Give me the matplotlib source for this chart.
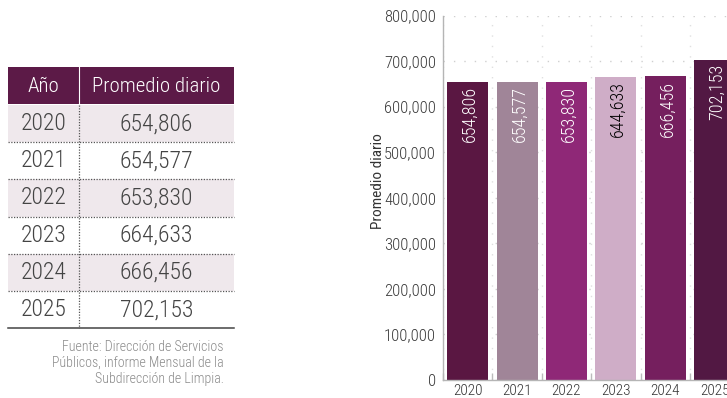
import matplotlib
matplotlib.use("Agg")
import matplotlib.pyplot as plt
import numpy as np
from matplotlib import font_manager
from matplotlib.patches import Rectangle
from matplotlib.ticker import FuncFormatter

# Datos
anios = ["2020", "2021", "2022", "2023", "2024", "2025"]
promedio = [654806, 654577, 653830, 664633, 666456, 702153]
etiquetas_tabla = ["654,806", "654,577", "653,830", "664,633", "666,456", "702,153"]
etiquetas_barras = ["654,806", "654,577", "653,830", "644,633", "666,456", "702,153"]
colores = ["#5a1742", "#a08598", "#8f2877", "#cfadc7", "#751f5e", "#521843"]
color_texto_barras = ["white", "white", "white", "black", "white", "white"]
fuente = "Fuente: Dirección de Servicios\nPúblicos, informe Mensual de la\nSubdirección de Limpia."


def elegir_fuente(nombres):
    for n in nombres:
        try:
            font_manager.findfont(n, fallback_to_default=False)
            return n
        except ValueError:
            continue
    return "DejaVu Sans"


familia = elegir_fuente(["Liberation Sans Narrow", "Roboto Condensed", "Open Sans Condensed", "Roboto"])
plt.rcParams["font.family"] = [familia, "DejaVu Sans"]
plt.rcParams["font.weight"] = "light"

W, H = 727, 398
fig = plt.figure(figsize=(W / 100, H / 100), dpi=100)

# Tabla (coordenadas en pixeles)
tab = fig.add_axes([0, 0, 1, 1], zorder=-1)
tab.set_xlim(0, W)
tab.set_ylim(H, 0)
tab.axis("off")

x0, x_div, x1 = 8, 79, 234
tab.add_patch(Rectangle((x0, 67), x1 - x0, 37, color="#5c1a47", lw=0))
tab.plot([x_div, x_div], [67, 104], color="white", lw=0.8)
tab.text((x0 + x_div) / 2, 86, "Año", color="white", fontsize=15, ha="center", va="center")
tab.text((x_div + x1) / 2, 86, "Promedio diario", color="white", fontsize=15, ha="center", va="center")

fila0, fila_h = 105, 37.2
for i, (a, v) in enumerate(zip(anios, etiquetas_tabla)):
    top = fila0 + i * fila_h
    if i % 2 == 0:
        tab.add_patch(Rectangle((x0, top), x1 - x0, fila_h, color="#efe8ec", lw=0))
    yb = top + fila_h
    if i < len(anios) - 1:
        tab.plot([x0, x1], [yb, yb], color="#555555", lw=0.9, ls=(0, (1, 1.2)))
    else:
        tab.plot([x0, x1], [yb, yb], color="#444444", lw=1.1)
    yc = top + fila_h / 2
    tab.text((x0 + x_div) / 2, yc, a, color="#444444", fontsize=17, ha="center", va="center")
    tab.text((x_div + x1) / 2, yc, v, color="#444444", fontsize=17, ha="center", va="center")
tab.plot([x_div, x_div], [fila0, fila0 + fila_h * len(anios)], color="#555555", lw=0.9, ls=(0, (1, 1.2)))

tab.text(224, 363, fuente, color="#8a8a8a", fontsize=10, ha="right", va="center",
         multialignment="right", linespacing=1.15)

# Grafica de barras
ax_left, ax_bottom, ax_top, cat_w = 443, 380, 15.5, 49.4
ax = fig.add_axes([ax_left / W, 1 - ax_bottom / H, 6 * cat_w / W, (ax_bottom - ax_top) / H])
x = np.arange(len(anios))
ax.bar(x, promedio, width=0.83, color=colores, zorder=2)
ax.set_xlim(-0.5, len(anios) - 0.5)
ax.set_ylim(0, 800000)
ax.set_yticks(np.arange(0, 800001, 100000))
ax.yaxis.set_major_formatter(FuncFormatter(lambda v, p: f"{v:,.0f}"))
ax.set_xticks(x)
ax.set_xticklabels(anios)
ax.set_xticks(np.arange(-0.5, len(anios), 1), minor=True)

ax.tick_params(axis="x", which="major", length=0, pad=3, labelsize=11, labelcolor="#333333")
ax.tick_params(axis="x", which="minor", direction="in", length=5, color="#bbbbbb", width=1)
ax.tick_params(axis="y", length=0, pad=5, labelsize=12, labelcolor="#3a3a3a")

ax.yaxis.grid(True, color="#cfcfcf", lw=1, ls=(0, (1, 6.5)), zorder=0)
ax.xaxis.grid(True, which="minor", color="#e0e0e0", lw=1, ls=(0, (1, 6.5)), zorder=0)
ax.set_axisbelow(True)

for s in ["top", "right"]:
    ax.spines[s].set_visible(False)
for s in ["left", "bottom"]:
    ax.spines[s].set_color("#b5b5b5")
    ax.spines[s].set_linewidth(1)

ax.set_ylabel("Promedio diario", fontsize=11, color="#333333")
ax.yaxis.set_label_coords(-0.197, 0.546)

for i, (v, lab, c) in enumerate(zip(promedio, etiquetas_barras, color_texto_barras)):
    ax.annotate(lab, (i, v), xytext=(1.5, -3), textcoords="offset points",
                rotation=90, ha="center", va="top", color=c, fontsize=13, zorder=3)

fig.savefig("out.png", dpi=100)
